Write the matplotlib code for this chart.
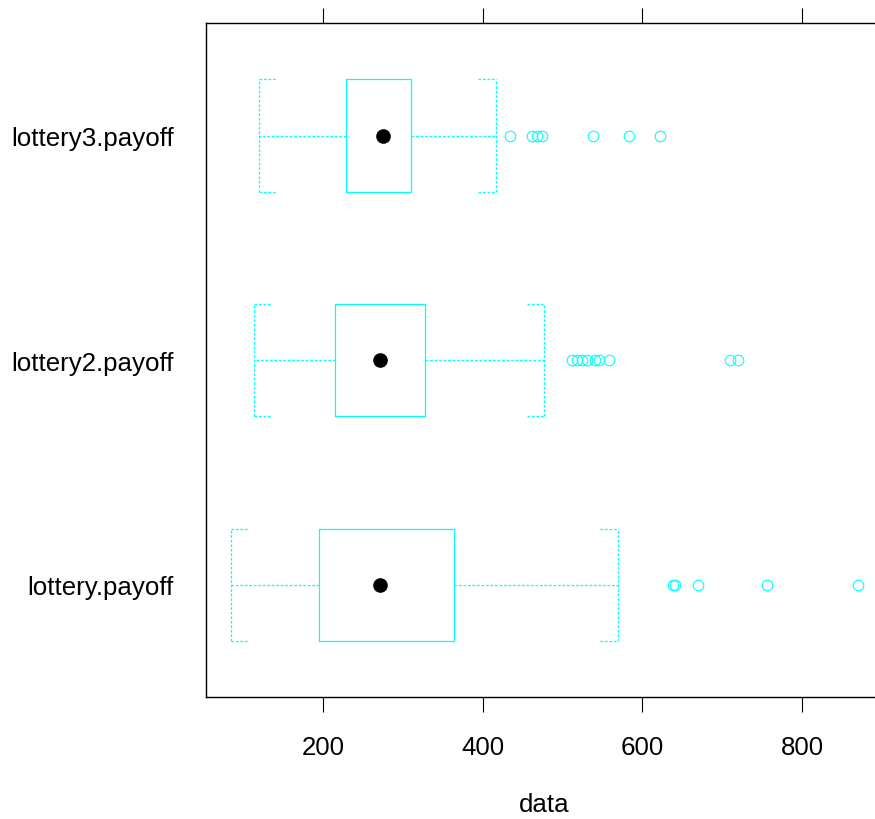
import matplotlib
matplotlib.use("Agg")
import matplotlib.pyplot as plt

plt.rcParams['font.family'] = ['Liberation Sans', 'DejaVu Sans']

# five-number summaries, bottom to top
labels = ["lottery.payoff", "lottery2.payoff", "lottery3.payoff"]
whisk_lo = [84, 113, 119]
q1 = [195, 215, 229]
med = [271, 271, 275]
q3 = [364, 328, 310]
whisk_hi = [569, 477, 416]
fliers = [
    [638, 641, 669, 756, 870],
    [512, 518, 524, 531, 541, 546, 558, 710, 720],
    [434, 462, 468, 474, 538, 583, 622],
]

xticks = [200, 400, 600, 800]
cyan = "#00FFFF"
dots = (0, (2.2, 1.4))
fsize = 18.6


def main():
    fig = plt.figure(figsize=(8.75, 8.2), dpi=100)
    ax = fig.add_axes([0.2351, 0.1484, 0.774, 0.822])

    pos = list(range(1, len(labels) + 1))
    stats = []
    for i in range(len(labels)):
        stats.append(dict(whislo=whisk_lo[i], q1=q1[i], med=med[i], q3=q3[i],
                          whishi=whisk_hi[i], fliers=fliers[i], label=labels[i]))

    ax.bxp(stats, positions=pos, vert=False, widths=0.5, capwidths=0.5,
           boxprops=dict(color=cyan, linewidth=0.9),
           whiskerprops=dict(color=cyan, linewidth=0.9, linestyle=dots),
           capprops=dict(color=cyan, linewidth=0.9, linestyle=dots),
           medianprops=dict(visible=False),
           flierprops=dict(marker='o', markerfacecolor='none', markeredgecolor=cyan,
                           markersize=7.6, markeredgewidth=0.8, linestyle='none'),
           manage_ticks=False)

    # short stubs at the whisker ends, lattice style
    stub = 22
    for p, lo, hi in zip(pos, whisk_lo, whisk_hi):
        for yy in (p - 0.25, p + 0.25):
            ax.plot([lo, lo + stub], [yy, yy], color=cyan, lw=0.9, linestyle=dots)
            ax.plot([hi - stub, hi], [yy, yy], color=cyan, lw=0.9, linestyle=dots)

    ax.plot(med, pos, 'o', color='black', markersize=9.5, linestyle='none', zorder=5)

    ax.set_xlim(52.6, 901.4)
    ax.set_ylim(0.5, len(labels) + 0.5)
    ax.set_yticks(pos)
    ax.set_yticklabels(labels, fontsize=fsize)
    ax.set_xticks(xticks)
    ax.set_xticklabels([str(t) for t in xticks], fontsize=fsize)
    ax.tick_params(axis='x', which='both', direction='out', length=10.8, width=0.8,
                   top=True, bottom=True, labeltop=False, pad=16)
    ax.tick_params(axis='y', length=0, pad=23)
    for s in ax.spines.values():
        s.set_linewidth(1.0)
    ax.set_xlabel("data", fontsize=fsize, labelpad=24)

    fig.savefig("out.png", dpi=100)


if __name__ == '__main__':
    main()
